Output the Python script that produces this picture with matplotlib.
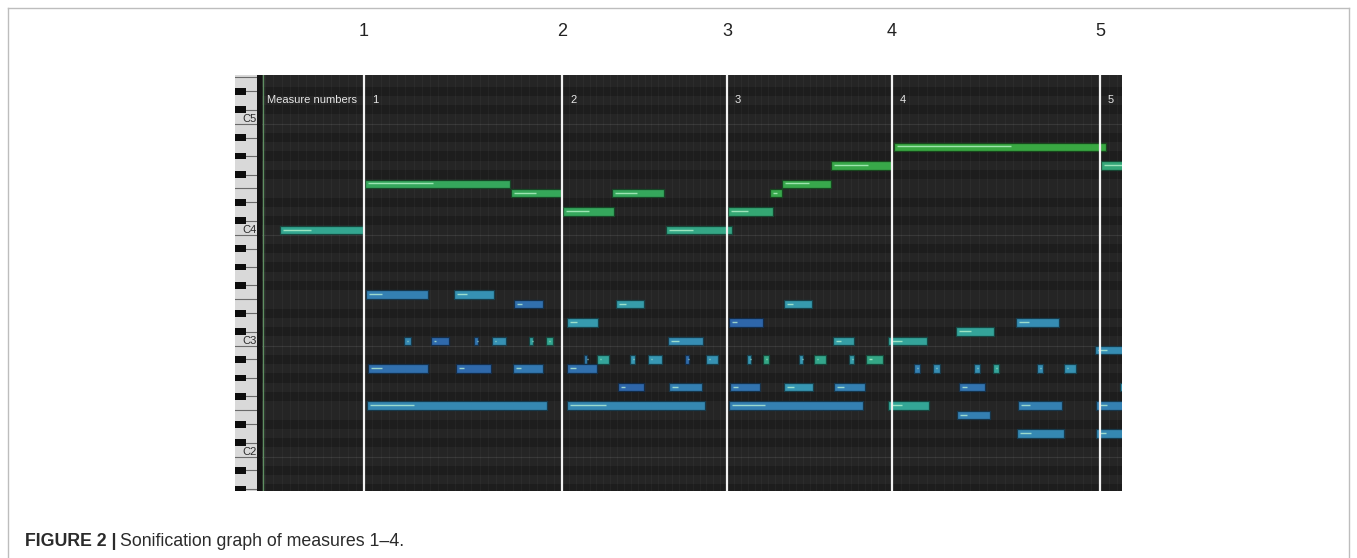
import matplotlib
matplotlib.use('Agg')
import matplotlib.pyplot as plt
from matplotlib.patches import Rectangle
from matplotlib.lines import Line2D
from matplotlib.colors import LinearSegmentedColormap, to_rgb
import numpy as np

plt.rcParams['font.family'] = ['Liberation Sans', 'DejaVu Sans']

# ---------------- data (time in ticks, pitch in MIDI numbers) ----------------
measure_ticks = [364, 562, 727, 892, 1100]
measure_labels = ['1', '2', '3', '4', '5']
octave_labels = {72: 'C5', 60: 'C4', 48: 'C3', 36: 'C2'}

# melody line
mel_pitch = [60, 65, 64, 62, 64, 60, 62, 64, 65, 67, 69, 67]
mel_start = [280, 365, 511, 563, 612, 666, 728, 770, 782, 831, 894, 1101]
mel_end   = [363, 510, 561, 614, 664, 732, 773, 782, 831, 892, 1106, 1130]
mel_hl    = [311, 433, 536, 589, 637, 693, 748, 777, 809, 868, 1011, 1130]
mel_tone  = [0.62, 0.80, 0.82, 0.80, 0.80, 0.66, 0.72, 0.90, 0.90, 0.92, 0.96, 0.70]

# accompaniment / bass
acc_pitch = [53, 53,
             52, 52, 52,
             50, 50, 50,
             49,
             48, 48, 48, 48, 48, 48, 48, 48, 48,
             47,
             46, 46, 46, 46, 46, 46, 46, 46, 46, 46, 46, 46,
             45, 45, 45, 45, 45, 45, 45, 45, 45, 45,
             43, 43, 43, 43, 43, 43, 43,
             41, 41, 41, 41, 41, 41,
             40,
             38, 38]
acc_start = [366, 454,
             514, 616, 784,
             567, 729, 1016,
             956,
             404, 431, 474, 492, 529, 546, 668, 833, 888,
             1095,
             584, 597, 630, 648, 685, 706, 747, 763, 799, 814, 849, 866,
             368, 456, 513, 567, 914, 933, 974, 993, 1037, 1064,
             618, 669, 730, 784, 834, 959, 1120,
             367, 567, 729, 888, 1018, 1096,
             957,
             1017, 1096]
acc_end   = [428, 494,
             543, 644, 812,
             598, 763, 1059,
             994,
             411, 449, 478, 506, 533, 553, 703, 854, 927,
             1130,
             587, 609, 635, 662, 689, 718, 751, 769, 803, 826, 854, 883,
             428, 491, 543, 597, 920, 940, 980, 999, 1043, 1076,
             644, 702, 760, 813, 865, 985, 1130,
             547, 705, 863, 929, 1062, 1130,
             990,
             1064, 1130]
acc_hl    = [382, 467,
             522, 626, 793,
             577, 737, 1029,
             971,
             407, 436, 476, 496, 531, 549, 679, 841, 902,
             1107,
             585, 601, 632, 652, 687, 710, 749, 766, 801, 818, 851, 872,
             382, 464, 521, 576, 917, 936, 977, 996, 1040, 1068,
             625, 678, 738, 794, 844, 967, 1125,
             414, 606, 765, 902, 1030, 1107,
             967,
             1031, 1106]
acc_tone  = [0.30, 0.42,
             0.15, 0.50, 0.48,
             0.48, 0.05, 0.38,
             0.58,
             0.35, 0.08, 0.20, 0.40, 0.55, 0.62, 0.38, 0.52, 0.58,
             0.38,
             0.30, 0.58, 0.45, 0.45, 0.10, 0.42, 0.45, 0.66, 0.45, 0.64, 0.50, 0.66,
             0.15, 0.08, 0.25, 0.15, 0.30, 0.38, 0.40, 0.58, 0.38, 0.42,
             0.05, 0.30, 0.20, 0.45, 0.30, 0.20, 0.45,
             0.35, 0.35, 0.30, 0.60, 0.30, 0.30,
             0.30,
             0.35, 0.35]

# ---------------- figure ----------------
W, H = 1357, 558
fig = plt.figure(figsize=(W / 100, H / 100), dpi=100)
fig.patch.set_facecolor('white')

def fx(px):
    return px / W

def fy(py):
    return 1 - py / H

ROLL_L, ROLL_R, ROLL_T, ROLL_B = 257, 1122, 75, 491
ylo, yhi = 31.78, 76.76
BLACK = {1, 3, 6, 8, 10}

ax = fig.add_axes([fx(ROLL_L), fy(ROLL_B), fx(ROLL_R) - fx(ROLL_L), (ROLL_B - ROLL_T) / H])
ax.set_xlim(ROLL_L, ROLL_R)
ax.set_ylim(ylo, yhi)
ax.axis('off')

# row bands
for p in range(30, 79):
    c = '#1d1d1d' if p % 12 in BLACK else '#252525'
    ax.axhspan(p - 0.5, p + 0.5, color=c, lw=0, zorder=0)
for p in range(30, 79):
    if p % 12 == 0:
        ax.axhline(p - 0.5, color='#383838', lw=0.8, zorder=1)

# vertical grid
sub = 24
grid = []
for i in range(len(measure_ticks) - 1):
    a, b = measure_ticks[i], measure_ticks[i + 1]
    grid += list(np.linspace(a, b, sub + 1)[:-1])
step0 = (measure_ticks[1] - measure_ticks[0]) / sub
t = measure_ticks[0] - step0
while t > 263:
    grid.append(t)
    t -= step0
stepN = (measure_ticks[-1] - measure_ticks[-2]) / sub
t = measure_ticks[-1]
while t < ROLL_R:
    grid.append(t)
    t += stepN
for k, g in enumerate(grid):
    ax.axvline(g, color='#ffffff', alpha=0.035, lw=0.8, zorder=1)

# dark strip + start line
ax.add_patch(Rectangle((ROLL_L, ylo), 5, yhi - ylo, color='#131313', lw=0, zorder=2))
ax.axvline(262.5, color='#5f8f62', lw=1.0, zorder=2)

# colours
cmap = LinearSegmentedColormap.from_list('roll', [
    (0.0, '#2d62a8'), (0.25, '#3379b2'), (0.45, '#3797b3'),
    (0.6, '#33a696'), (0.8, '#35a75c'), (1.0, '#3aa83c')])


def draw_notes(pitch, start, end, hl, tone):
    for p, s, e, h, tn in zip(pitch, start, end, hl, tone):
        face = np.array(to_rgb(cmap(tn)))
        edge = face * 0.42
        ax.add_patch(Rectangle((s, p - 0.46), e - s, 0.92, facecolor=face,
                               edgecolor=edge, lw=0.9, zorder=4))
        light = face * 0.3 + np.array(to_rgb('#c8ffd8')) * 0.7
        x1 = s + 2.5
        x2 = max(h, x1 + 1.5)
        ax.add_line(Line2D([x1, x2], [p + 0.03, p + 0.03], color=light, lw=1.0,
                           solid_capstyle='butt', zorder=5))


draw_notes(acc_pitch, acc_start, acc_end, acc_hl, acc_tone)
draw_notes(mel_pitch, mel_start, mel_end, mel_hl, mel_tone)

# measure lines and labels
for m, lab in zip(measure_ticks, measure_labels):
    ax.axvline(m, color='#f2f2f2', lw=1.6, zorder=6)
    ax.text(m + 8, ylo + (yhi - ylo) * 0.94, lab, color='#e6e6e6', fontsize=8,
            ha='left', va='center', zorder=7)
    fig.text(fx(m), fy(31), lab, fontsize=13, ha='center', va='center', color='#222222')
ax.text(267, ylo + (yhi - ylo) * 0.94, 'Measure numbers', color='#e6e6e6', fontsize=8,
        ha='left', va='center', zorder=7)

# keyboard
kax = fig.add_axes([fx(235), fy(ROLL_B), fx(ROLL_L) - fx(235), (ROLL_B - ROLL_T) / H])
kax.set_xlim(0, 1)
kax.set_ylim(ylo, yhi)
kax.axis('off')
kax.add_patch(Rectangle((0, ylo), 1, yhi - ylo, color='#d9d9d9', lw=0, zorder=0))
for p in range(30, 79):
    pc = p % 12
    if pc in BLACK:
        kax.add_patch(Rectangle((0, p - 0.37), 0.48, 0.74, color='#0d0d0d', lw=0, zorder=2))
        kax.plot([0.48, 1], [p, p], color='#6a6a6a', lw=0.8, zorder=1)
    if pc in (4, 11):
        kax.plot([0, 1], [p + 0.5, p + 0.5], color='#6a6a6a', lw=0.8, zorder=1)
for p, lab in octave_labels.items():
    kax.text(0.97, p, lab, fontsize=8, ha='right', va='center', color='#2a2a2a', zorder=3)

# frame
for xs, ys in [([7.5, 7.5], [558, 8]), ([7.5, 1348.5], [8, 8]), ([1348.5, 1348.5], [8, 558])]:
    fig.add_artist(Line2D([fx(x) for x in xs], [fy(y) for y in ys], color='#bdbdbd', lw=1.0))

# caption
t1 = fig.text(fx(25), fy(541), 'FIGURE 2 |', fontsize=12.8, fontweight='bold',
              ha='left', va='center', color='#2b2b2b')
fig.canvas.draw()
bb = t1.get_window_extent(renderer=fig.canvas.get_renderer())
fig.text(bb.x1 / W + fx(4), fy(541), 'Sonification graph of measures 1\u20134.', fontsize=12.8,
         ha='left', va='center', color='#2b2b2b')

fig.savefig('out.png', dpi=100, facecolor='white')
